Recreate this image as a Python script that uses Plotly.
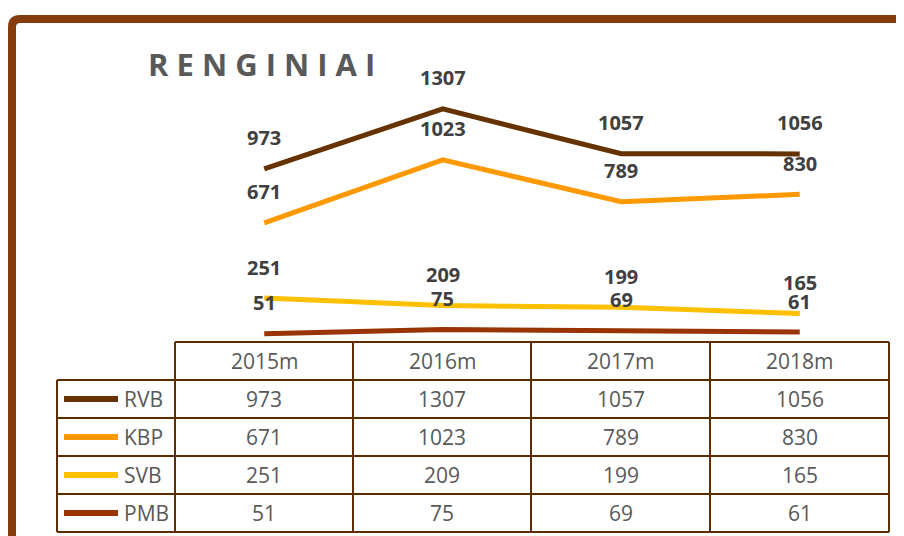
import plotly.graph_objects as go

# ---- data ----
categories = ["2015m", "2016m", "2017m", "2018m"]
series_names = ["RVB", "KBP", "SVB", "PMB"]
rvb = [973, 1307, 1057, 1056]
kbp = [671, 1023, 789, 830]
svb = [251, 209, 199, 165]
pmb = [51, 75, 69, 61]
series_values = [rvb, kbp, svb, pmb]
series_colors = ["#663300", "#FF9900", "#FFC000", "#993300"]
title_text = "RENGINIAI"

# page body has an 8px margin, so the figure is 8px smaller each way
OFF = 8
W, H = 904 - OFF, 536 - OFF


def px(x):
    return (x - OFF) / W


def py(y):
    return 1 - (y - OFF) / H


fig = go.Figure()

xi = list(range(len(categories)))
for name, vals, col in zip(series_names, series_values, series_colors):
    fig.add_trace(go.Scatter(
        x=xi, y=vals, mode="lines", name=name,
        line=dict(color=col, width=5), showlegend=False, hoverinfo="skip"))

annotations = []
# data labels
for vals in series_values:
    for i, v in enumerate(vals):
        annotations.append(dict(
            x=i, y=v, xref="x", yref="y", text=str(v), showarrow=False,
            yshift=31,
            font=dict(family="Open Sans", size=20, color="#404040", weight="bold"),
            xanchor="center", yanchor="middle"))

# title
annotations.append(dict(
    x=px(261), y=py(64), xref="paper", yref="paper",
    text=" ".join(title_text), showarrow=False,
    font=dict(family="Open Sans", size=31, color="#595959", weight="bold"),
    xanchor="center", yanchor="middle"))

# table geometry
col_x = [175, 353, 531, 710, 889]
leg_x0 = 57
row_y = [342, 380, 418, 456, 494, 532]
grid = "#5E2E02"
shapes = []

# frame
shapes.append(dict(
    type="path", xref="paper", yref="paper",
    path=f"M {px(12)},{py(560)} L {px(12)},{py(27)} Q {px(12)},{py(19)} {px(20)},{py(19)} L {px(920)},{py(19)}",
    line=dict(color="#843C0C", width=8)))

# horizontal lines
for j, y in enumerate(row_y):
    x0 = col_x[0] if j == 0 else leg_x0
    shapes.append(dict(type="line", xref="paper", yref="paper",
                       x0=px(x0), x1=px(col_x[-1]), y0=py(y), y1=py(y),
                       line=dict(color=grid, width=2)))
# vertical lines
for x in col_x:
    shapes.append(dict(type="line", xref="paper", yref="paper",
                       x0=px(x), x1=px(x), y0=py(row_y[0]), y1=py(row_y[-1]),
                       line=dict(color=grid, width=2)))
shapes.append(dict(type="line", xref="paper", yref="paper",
                   x0=px(leg_x0), x1=px(leg_x0), y0=py(row_y[1]), y1=py(row_y[-1]),
                   line=dict(color=grid, width=2)))

tfont = dict(family="Open Sans", size=21, color="#595959")
# header
for i, c in enumerate(categories):
    annotations.append(dict(
        x=px((col_x[i] + col_x[i + 1]) / 2), y=py((row_y[0] + row_y[1]) / 2),
        xref="paper", yref="paper", text=c, showarrow=False, font=tfont,
        xanchor="center", yanchor="middle"))
# rows
for r, (name, vals, col) in enumerate(zip(series_names, series_values, series_colors)):
    yc = (row_y[r + 1] + row_y[r + 2]) / 2
    shapes.append(dict(type="line", xref="paper", yref="paper",
                       x0=px(64), x1=px(118), y0=py(yc), y1=py(yc),
                       line=dict(color=col, width=6)))
    annotations.append(dict(
        x=px(122), y=py(yc), xref="paper", yref="paper", text=name,
        showarrow=False, font=tfont, xanchor="left", yanchor="middle"))
    for i, v in enumerate(vals):
        annotations.append(dict(
            x=px((col_x[i] + col_x[i + 1]) / 2), y=py(yc),
            xref="paper", yref="paper", text=str(v), showarrow=False,
            font=tfont, xanchor="center", yanchor="middle"))

fig.update_layout(
    width=W, height=H,
    margin=dict(l=0, r=0, t=0, b=0),
    paper_bgcolor="white", plot_bgcolor="white",
    xaxis=dict(domain=[px(175), px(889)], range=[-0.5, 3.5], visible=False),
    yaxis=dict(domain=[py(343), py(92.3)], range=[0, 1400], visible=False),
    shapes=shapes, annotations=annotations,
)

fig.write_html("out.html")
